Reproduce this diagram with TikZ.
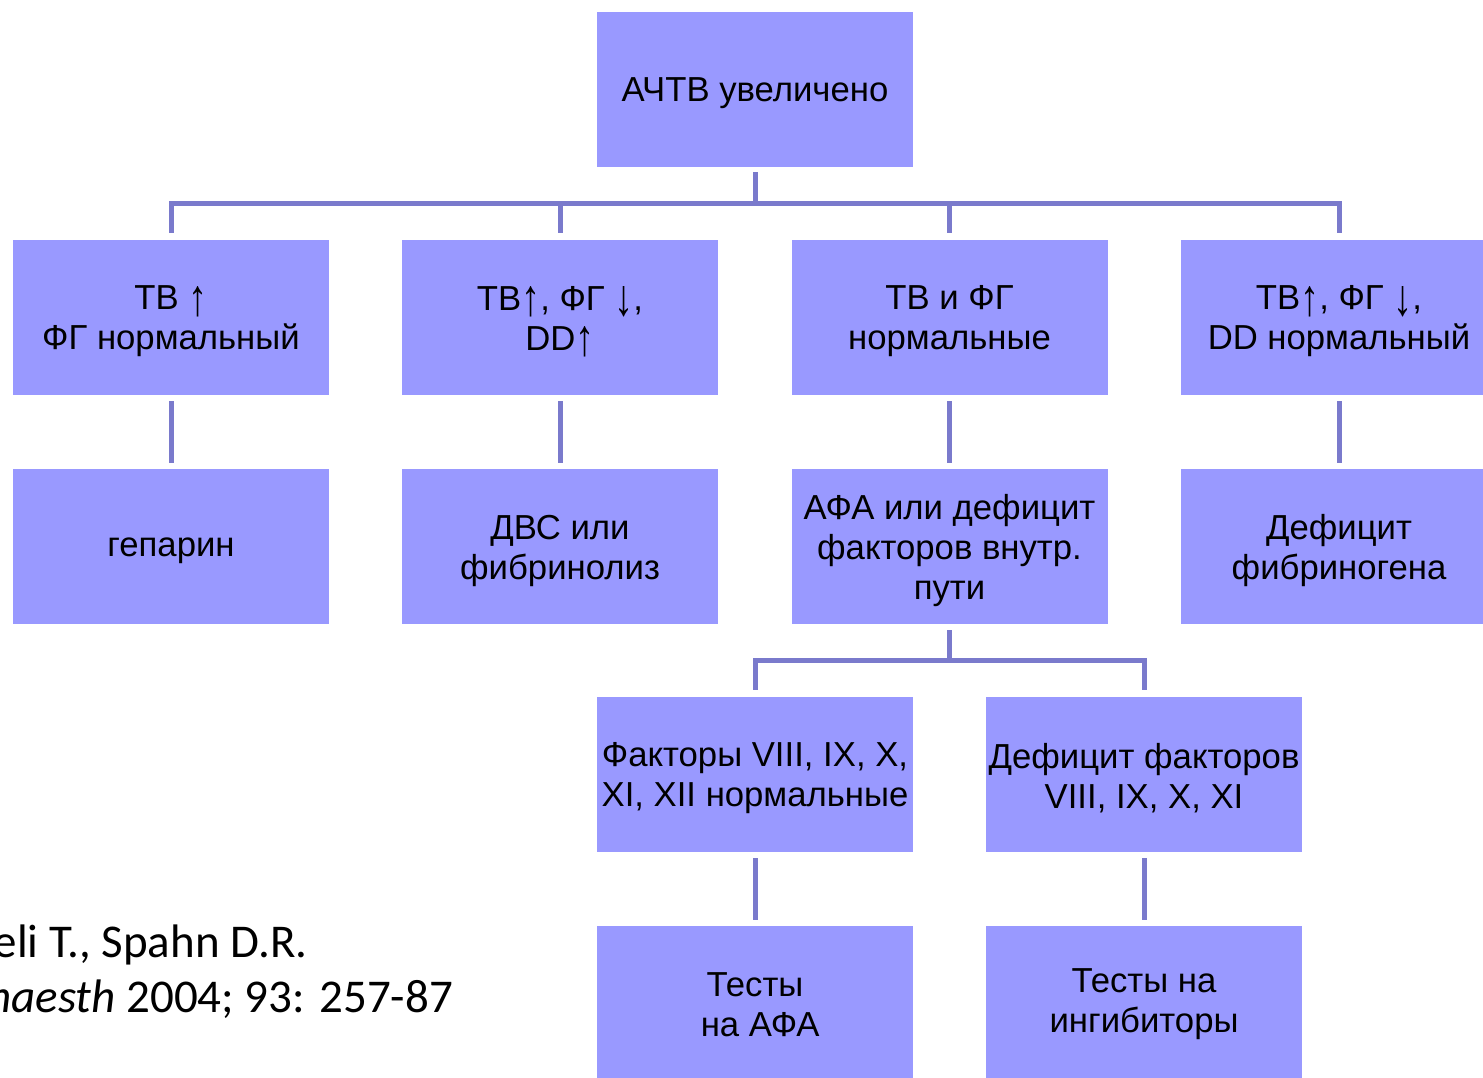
\documentclass[tikz,border=0pt]{standalone}
\usepackage{fontspec}
\usepackage{graphicx}
\setmainfont{Liberation Sans}
\newfontfamily\reffont{Carlito}
\definecolor{boxc}{HTML}{9999FF}
\definecolor{linec}{HTML}{7A7ACC}
\newcommand\tallarr[1]{\raisebox{-0.2em}{\resizebox*{1.1\width}{0.88em}{\raisebox{\depth}{#1}}}}
\newcommand\upA{\tallarr{↑}}
\newcommand\dnA{\tallarr{↓}}
\tikzset{
  boxnode/.style={rectangle, fill=boxc, minimum width=316pt, minimum height=155pt, inner sep=0pt},
  textlab/.style={inner sep=0pt, align=center, font=\fontsize{34.7}{40}\selectfont},
  conn/.style={draw=linec, line width=5pt},
  reftext/.style={anchor=base east, inner sep=0pt, font=\reffont\fontsize{47}{55}\selectfont}
}
\newcommand\bx[4][-4pt]{%
  \node[boxnode] (#2) at #3 {};
  \node[textlab] (#2-t) at ([yshift=#1]#2.center) {#4};}
\begin{document}
\begin{tikzpicture}[x=1pt,y=-1pt]
\clip (0,0) rectangle (1483,1077);
\fill[white] (0,0) rectangle (1483,1077);
% boxes
\bx{top}{(755,89.5)}{АЧТВ увеличено}
\bx{r2a}{(171,317.5)}{ТВ \upA\\ФГ нормальный}
\bx{r2b}{(560,317.5)}{ТВ\upA, ФГ \dnA,\\DD\upA}
\bx{r2c}{(949.5,317.5)}{ТВ и ФГ\\нормальные}
\bx{r2d}{(1339,317.5)}{ТВ\upA, ФГ \dnA,\\DD нормальный}
\bx{r3a}{(171,546.5)}{гепарин}
\bx{r3b}{(560,546.5)}{ДВС или\\фибринолиз}
\bx{r3c}{(949.5,546.5)}{АФА или дефицит\\факторов внутр.\\пути}
\bx{r3d}{(1339,546.5)}{Дефицит\\фибриногена}
\bx{r4a}{(755,774.5)}{Факторы VIII, IX, X,\\XI, XII нормальные}
\bx{r4b}{(1144,774.5)}{Дефицит факторов\\VIII, IX, X, XI}
\bx[-1pt]{r5a}{(755,1003.5)}{Тесты\\\hspace*{0.3em}на АФА}
\bx[-1pt]{r5b}{(1144,1003.5)}{Тесты на\\ингибиторы}
% buses
\coordinate (bus1) at (755,203.5);
\coordinate (bus2) at (949.5,660);
\draw[conn, shorten <=5pt] (top.south) -- (bus1);
\foreach \c in {r2a,r2b,r2c,r2d}
  \draw[conn, shorten >=7pt] (bus1) -| (\c.north);
\draw[conn, shorten <=6pt] (r3c.south) -- (bus2);
\foreach \c in {r4a,r4b}
  \draw[conn, shorten >=7pt] (bus2) -| (\c.north);
% single links
\draw[conn, shorten <=6pt, shorten >=6pt] (r2a) -- (r3a);
\draw[conn, shorten <=6pt, shorten >=6pt] (r2b) -- (r3b);
\draw[conn, shorten <=6pt, shorten >=6pt] (r2c) -- (r3c);
\draw[conn, shorten <=6pt, shorten >=6pt] (r2d) -- (r3d);
\draw[conn, shorten <=6pt, shorten >=6pt] (r4a) -- (r5a);
\draw[conn, shorten <=6pt, shorten >=6pt] (r4b) -- (r5b);
% reference
\node[reftext] (ref1) at (308,957) {Bombeli T., Spahn D.R.};
\node[reftext] (ref2) at (453,1012) {\textit{Br J Anaesth} 2004; 93: 257-87};
\end{tikzpicture}
\end{document}
